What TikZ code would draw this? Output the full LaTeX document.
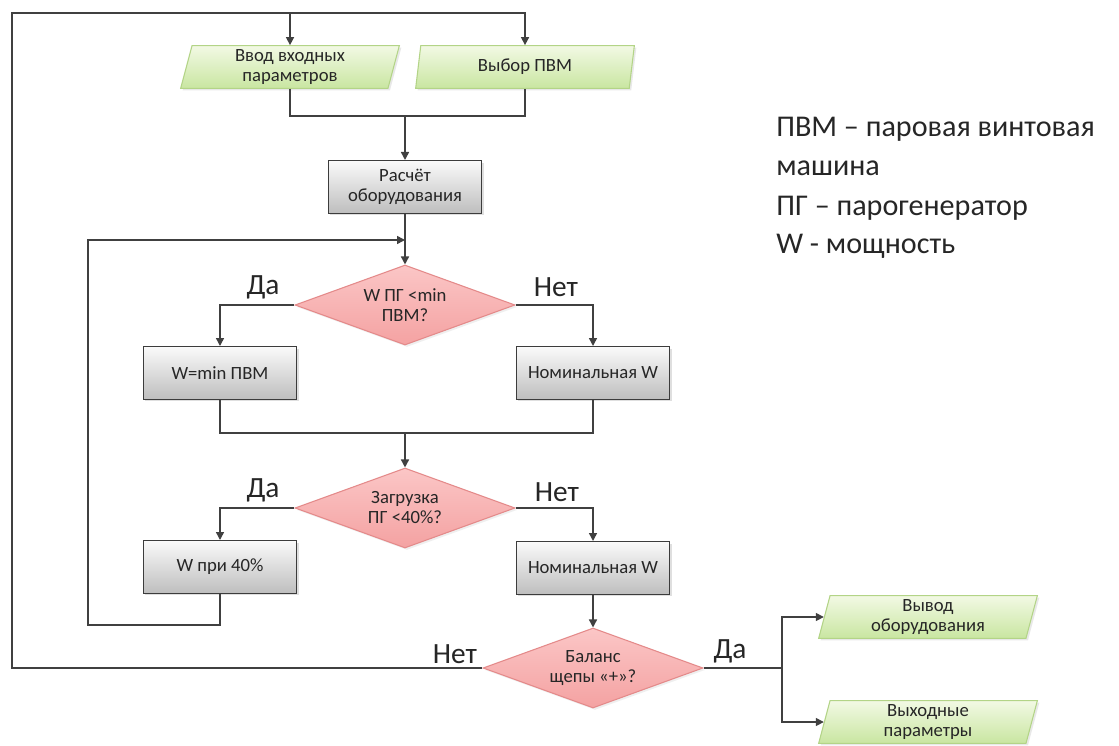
\documentclass[tikz,border=0pt]{standalone}
\usepackage{fontspec}
\setmainfont{Carlito}
\usetikzlibrary{shapes.geometric,arrows.meta,shadows}
\definecolor{lncol}{HTML}{404040}
\definecolor{txtcol}{HTML}{262626}
\definecolor{grtop}{HTML}{F2F9E4}
\definecolor{grbot}{HTML}{C9E6A1}
\definecolor{grdraw}{HTML}{B3D487}
\definecolor{gytop}{HTML}{FAFAFA}
\definecolor{gybot}{HTML}{BEBEBE}
\definecolor{gydraw}{HTML}{3C3C3C}
\definecolor{rdtop}{HTML}{FBC6C6}
\definecolor{rdbot}{HTML}{F4A2A2}
\definecolor{rddraw}{HTML}{E48A8A}
\tikzset{
  every node/.style={text=txtcol},
  boxtxt/.style={font=\fontsize{14}{15}\selectfont, align=center},
  para/.style={boxtxt, trapezium, trapezium left angle=72, trapezium right angle=108,
    trapezium stretches body=true, minimum width=164pt, minimum height=32pt, inner sep=0pt,
    draw=grdraw, line width=0.8pt, top color=grtop, bottom color=grbot,
    drop shadow={shadow xshift=1.5pt, shadow yshift=-1.5pt, opacity=0.18}},
  procbox/.style={boxtxt, rectangle, minimum width=115pt, minimum height=39.5pt, inner sep=0pt,
    draw=gydraw, line width=1pt, top color=gytop, bottom color=gybot,
    drop shadow={shadow xshift=1.5pt, shadow yshift=-1.5pt, opacity=0.25}},
  decis/.style={boxtxt, diamond, minimum width=165pt, minimum height=60pt, inner sep=0pt, aspect=2.75,
    draw=rddraw, line width=0.8pt, top color=rdtop, bottom color=rdbot,
    drop shadow={shadow xshift=1.5pt, shadow yshift=-1.5pt, opacity=0.12}},
  lbl/.style={font=\fontsize{22}{24}\selectfont, inner sep=0pt},
  legend/.style={font=\fontsize{22.6}{26}\selectfont, inner sep=0pt, anchor=base west},
  conn/.style={draw=lncol, line width=1.1pt},
  arr/.style={conn, -{Triangle[length=6pt,width=6pt]}},
}
\begin{document}
\begin{tikzpicture}[x=0.75pt,y=-0.75pt]
\useasboundingbox (0,0) rectangle (1119,745);
\fill[white] (0,0) rectangle (1119,745);

% nodes
\node[para] (p1) at (290,67) {Ввод входных\\параметров};
\node[para] (p2) at (525,67) {Выбор ПВМ};
\node[procbox] (calc) at (405,187) {Расчёт\\оборудования};
\node[decis] (d1) at (405,305) {W ПГ <min\\ПВМ?};
\node[procbox] (b1) at (220,373) {W=min ПВМ};
\node[procbox] (b2) at (593,373) {Номинальная W};
\node[decis] (d2) at (405,508) {Загрузка\\ПГ <40\%?};
\node[procbox] (b3) at (220,567) {W при 40\%};
\node[procbox] (b4) at (593,568) {Номинальная W};
\node[decis] (d3) at (593,668) {Баланс\\щепы «+»?};
\node[para] (o1) at (928,617) {Вывод\\оборудования};
\node[para] (o2) at (928,722) {Выходные\\параметры};

% labels
\node[lbl] (l1) at (263,287) {Да};
\node[lbl] (l2) at (556,287) {Нет};
\node[lbl] (l3) at (263,490) {Да};
\node[lbl] (l4) at (557,492) {Нет};
\node[lbl] (l5) at (455,654) {Нет};
\node[lbl] (l6) at (730,651) {Да};

% legend
\node[legend] (g1) at (776,137) {ПВМ – паровая винтовая};
\node[legend] (g2) at (776,176) {машина};
\node[legend] (g3) at (776,215) {ПГ – парогенератор};
\node[legend] (g4) at (776,253) {W - мощность};

% coordinates
\coordinate (tl) at (12,13);
\coordinate (m1) at (405,116);
\coordinate (j1) at (405,240);
\coordinate (lp) at (88,625);
\coordinate (m2) at (405,433);
\coordinate (j2) at (782,668);

% connectors
\draw[arr] (d3.west) -| (tl) -| (p2.north);
\draw[arr] (p1.north |- tl) -- (p1.north);
\draw[conn] (p1.south) |- (m1) -| (p2.south);
\draw[arr] (m1) -- (calc.north);
\draw[conn] (calc.south) -- (j1);
\draw[arr] (j1) -- (d1.north);
\draw[arr] (b3.south) |- (lp) |- (j1);
\draw[arr] (d1.west) -| (b1.north);
\draw[arr] (d1.east) -| (b2.north);
\draw[conn] (b1.south) |- (m2) -| (b2.south);
\draw[arr] (m2) -- (d2.north);
\draw[arr] (d2.west) -| (b3.north);
\draw[arr] (d2.east) -| (b4.north);
\draw[arr] (b4.south) -- (d3.north);
\draw[conn] (d3.east) -- (j2);
\draw[arr] (j2) |- (o1.west);
\draw[arr] (j2) |- (o2.west);
\end{tikzpicture}
\end{document}
